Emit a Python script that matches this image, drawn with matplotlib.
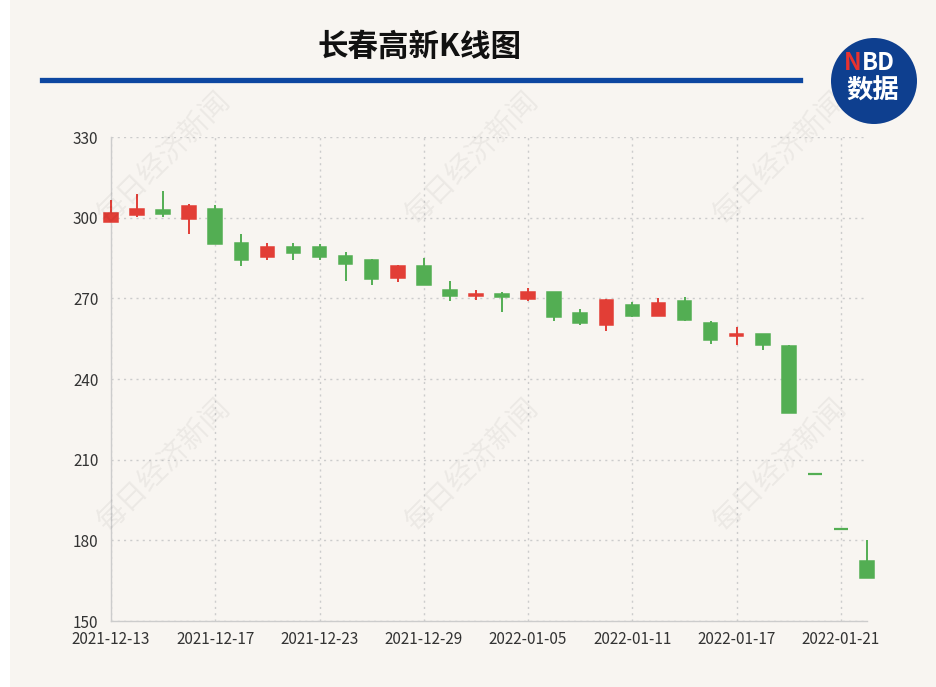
import matplotlib
matplotlib.use("Agg")
import matplotlib.pyplot as plt
from matplotlib.patches import Circle, Rectangle
from matplotlib.lines import Line2D

plt.rcParams["font.family"] = ["Noto Sans CJK SC", "DejaVu Sans"]

# daily K-line data
dates = ["2021-12-13", "2021-12-14", "2021-12-15", "2021-12-16", "2021-12-17",
         "2021-12-20", "2021-12-21", "2021-12-22", "2021-12-23", "2021-12-24",
         "2021-12-27", "2021-12-28", "2021-12-29", "2021-12-30", "2021-12-31",
         "2022-01-04", "2022-01-05", "2022-01-06", "2022-01-07", "2022-01-10",
         "2022-01-11", "2022-01-12", "2022-01-13", "2022-01-14", "2022-01-17",
         "2022-01-18", "2022-01-19", "2022-01-20", "2022-01-21", "2022-01-24"]
opens = [298.3, 301.0, 302.8, 299.4, 303.1, 290.4, 285.5, 289.0, 289.1, 285.9,
         284.2, 277.5, 282.0, 273.0, 271.0, 271.5, 269.8, 272.2, 264.4, 260.1,
         267.4, 263.6, 269.0, 260.7, 256.0, 256.8, 252.1, 204.7, 184.3, 172.4]
closes = [301.6, 303.1, 301.4, 304.5, 290.1, 284.1, 289.1, 286.9, 285.4, 282.8,
          277.1, 281.9, 274.8, 271.0, 271.6, 270.6, 272.4, 263.0, 261.0, 269.5,
          263.6, 268.4, 262.1, 254.6, 256.8, 252.8, 227.4, 204.7, 184.3, 166.0]
lows = [298.3, 300.4, 300.4, 293.9, 290.1, 282.2, 284.1, 284.2, 284.2, 276.4,
        274.9, 276.2, 274.8, 269.0, 269.4, 265.0, 269.0, 261.5, 260.2, 257.8,
        263.1, 263.6, 261.5, 253.2, 252.5, 250.8, 227.4, 204.7, 184.3, 166.0]
highs = [306.6, 308.8, 310.0, 305.1, 304.6, 293.8, 290.6, 290.7, 290.1, 287.1,
         284.6, 282.3, 285.0, 276.3, 273.1, 272.2, 274.0, 272.4, 265.9, 269.7,
         268.7, 270.0, 270.6, 261.5, 259.5, 256.8, 252.7, 204.7, 184.3, 180.2]
y_ticks = [150, 180, 210, 240, 270, 300, 330]

UP = "#e23e36"
DOWN = "#53ae53"
BG = "#f8f5f1"

W, H = 937, 687
fig = plt.figure(figsize=(W / 100, H / 100), dpi=100)
fig.patch.set_facecolor(BG)
fig.patches.append(Rectangle((0, 0), 10 / W, 1, transform=fig.transFigure,
                             facecolor="white", edgecolor="none", zorder=0))

ax = fig.add_axes([111 / W, 1 - 621 / H, 756 / W, 484 / H])
ax.set_facecolor(BG)

# watermarks
for wx, wy in [(165, 158), (473, 158), (781, 158), (165, 465), (473, 465), (781, 465)]:
    fig.text(wx / W, 1 - wy / H, "每日经济新闻", rotation=45, ha="center", va="center",
             fontsize=21, color="#000000", alpha=0.05, zorder=0)

x = list(range(len(dates)))
for i in x:
    o, c, lo, hi = opens[i], closes[i], lows[i], highs[i]
    col = UP if c > o else DOWN
    ax.vlines(i, lo, hi, color=col, lw=1.4, zorder=3, clip_on=False)
    # flat (limit) days show as a short bar
    ew = 1.1 if abs(c - o) > 0 else 1.6
    ax.bar(i, abs(c - o), bottom=min(o, c), width=0.52, color=col,
           edgecolor=col, linewidth=ew, zorder=4, clip_on=False)

ax.set_xlim(0, len(dates) - 1)
ax.set_ylim(150, 330)
ax.set_yticks(y_ticks)
ax.set_xticks(x[::4])
ax.set_xticklabels(dates[::4])
ax.tick_params(length=0, labelsize=11, labelcolor="#333333")
ax.tick_params(axis="y", pad=9)
ax.tick_params(axis="x", pad=7)

ax.grid(True, linestyle=(0, (1.5, 3)), color="#cccccc", lw=1, zorder=1)
ax.set_axisbelow(True)
for s in ["top", "right"]:
    ax.spines[s].set_visible(False)
for s in ["left", "bottom"]:
    ax.spines[s].set_color("#cccccc")
    ax.spines[s].set_linewidth(1)

# header
fig.text(419 / W, 1 - 47 / H, "长春高新K线图", ha="center", va="center",
         fontsize=22, fontweight="bold", color="#111111")
fig.add_artist(Line2D([42 / W, 800 / W], [1 - 80 / H, 1 - 80 / H],
                      transform=fig.transFigure, color="#0d47a1", lw=3.8))

# NBD logo
fig.patches.append(Circle((874 / 100, (H - 81) / 100), 43 / 100,
                          transform=fig.dpi_scale_trans, facecolor="#0e3f8f",
                          edgecolor="none", zorder=2))
fig.text(862 / W, 1 - 63 / H, "N", ha="right", va="center", fontsize=17,
         fontweight="bold", color="#e8322f", zorder=3)
fig.text(862 / W, 1 - 63 / H, "BD", ha="left", va="center", fontsize=17,
         fontweight="bold", color="white", zorder=3)
fig.text(873 / W, 1 - 91 / H, "数据", ha="center", va="center", fontsize=19,
         fontweight="bold", color="white", zorder=3)

fig.savefig("out.png", dpi=100, facecolor=BG)
